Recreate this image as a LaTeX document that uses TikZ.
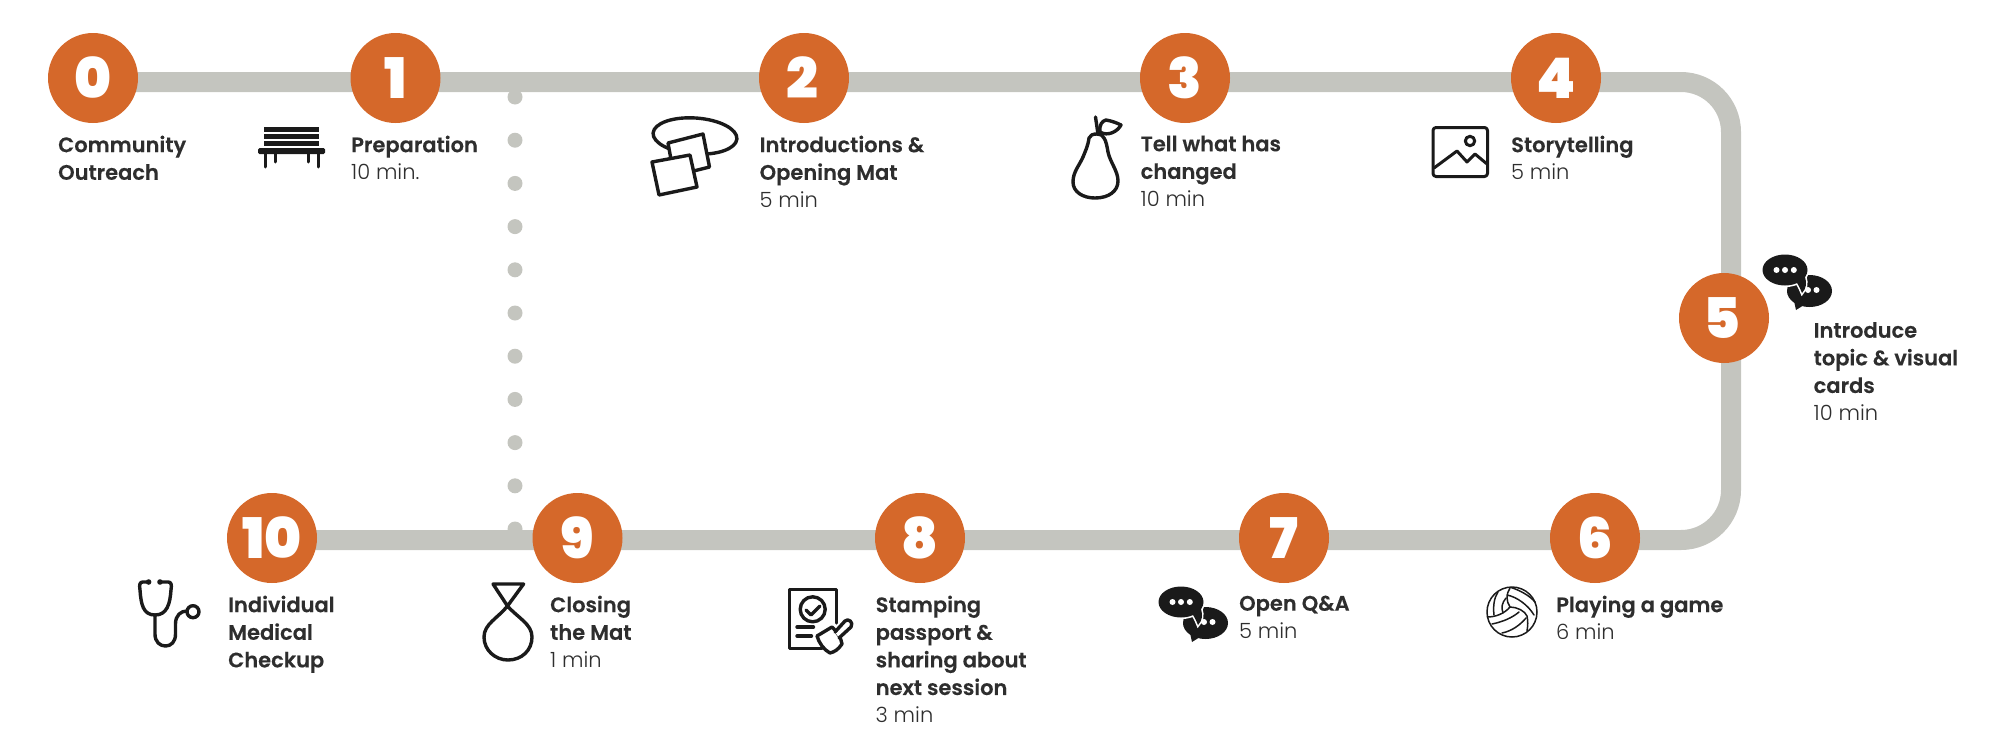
\documentclass[tikz,border=0pt]{standalone}
\usepackage{fontspec}
\setmainfont{Poppins Light}[BoldFont={Poppins SemiBold},BoldFeatures={FakeBold=0.25}]
\newfontfamily\digitfont{Poppins Black}
\pgfdeclarelayer{back}\pgfsetlayers{back,main}
\definecolor{orangeC}{HTML}{D5682A}
\definecolor{trackC}{HTML}{C4C5BF}
\definecolor{inkC}{HTML}{1A1A1A}
\definecolor{textC}{HTML}{2E2E2E}
\tikzset{
  stepnode/.style={circle,fill=orangeC,minimum size=90pt,inner sep=0pt,text=white,font=\digitfont\fontsize{56}{56}\selectfont},
  track/.style={draw=trackC,line width=20pt},
  lbl/.style={anchor=north west,inner sep=0pt,align=left,text=textC,font=\fontsize{21}{27.6}\selectfont,execute at begin node={\rule{0pt}{20pt}}},
  icon/.style={draw=inkC,line width=3.4pt,line join=round,line cap=round},
  thinicon/.style={draw=inkC,line width=1.5pt,line join=round,line cap=round},
  chat/.pic={
    \fill[inkC] (24.5,21) ellipse (22.5 and 16);
    \fill[inkC] (2,22) -- (7,30) -- (9,31) -- (11,40) -- (19,35) -- (18,18) -- cycle;
    \path[draw=white,line width=3.2pt,fill=inkC] (0,0) ellipse (22.5 and 15.5)
      (10,10) .. controls (13,14) and (15,18) .. (17,23) .. controls (21,19) and (22,13) .. (20,7) -- cycle;
    \fill[inkC] (0,0) ellipse (22.5 and 15.5);
    \fill[inkC] (10,10) .. controls (13,14) and (15,18) .. (17,23) .. controls (21,19) and (22,13) .. (20,7) -- cycle;
    \foreach \x in {-8.5,0,8.8}{\fill[white] (\x,0) circle (3);}
    \foreach \x in {23,31.5}{\fill[white] (\x,20) circle (3);}
  }
}
\begin{document}
\begin{tikzpicture}[x=1pt,y=-1pt]
\useasboundingbox (0,0) rectangle (2000,742);
% dotted line
\foreach \i in {0,...,10}{\fill[trackC] (515,{97+43.2*\i}) circle (7.5);}
% circles
\node[stepnode] (c0) at (93,78) {0};
\node[stepnode] (c1) at (395.5,78) {1};
\node[stepnode] (c2) at (804,78) {2\kern4pt};
\node[stepnode] (c3) at (1185,78) {3};
\node[stepnode] (c4) at (1556,78) {4};
\node[stepnode] (c5) at (1724,318) {5\kern4pt};
\node[stepnode] (c6) at (1595,538) {6};
\node[stepnode] (c7) at (1284,538) {7};
\node[stepnode] (c8) at (920,538) {8};
\node[stepnode] (c9) at (577.5,538) {9};
\node[stepnode] (c10) at (272,538) {10};
\coordinate (tr) at (1731,82);
\coordinate (br) at (1731,540);
\begin{pgfonlayer}{back}
\draw[track,rounded corners=50pt] (c0.center |- tr) -- (tr) -- (br) -- (c10.center |- br);
\end{pgfonlayer}
% labels
\node[lbl] (l0) at (58,135.5) {\textbf{Community}\\\textbf{Outreach}};
\node[lbl] (l1) at (351,135.5) {\textbf{Preparation}\\10 min.};
\node[lbl] (l2) at (759.5,135.5) {\textbf{Introductions \&}\\\textbf{Opening Mat}\\5 min};
\node[lbl] (l3) at (1140.5,135.5) {\textbf{Tell what has}\\\textbf{changed}\\10 min};
\node[lbl] (l4) at (1511,135.5) {\textbf{Storytelling}\\5 min};
\node[lbl] (l5) at (1813.5,322) {\textbf{Introduce}\\\textbf{topic \& visual}\\\textbf{cards}\\10 min};
\node[lbl] (l6) at (1556,595.5) {\textbf{Playing a game}\\6 min};
\node[lbl] (l7) at (1239,595.5) {\textbf{Open Q\&A}\\5 min};
\node[lbl] (l8) at (875.5,595.5) {\textbf{Stamping}\\\textbf{passport \&}\\\textbf{sharing about}\\\textbf{next session}\\3 min};
\node[lbl] (l9) at (550,595.5) {\textbf{Closing}\\\textbf{the Mat}\\1 min};
\node[lbl] (l10) at (228,595.5) {\textbf{Individual}\\\textbf{Medical}\\\textbf{Checkup}};
% bench
\foreach \y in {127,134,141}{\fill[inkC] (264,\y) rectangle (319,\y+4.8);}
\fill[inkC,rounded corners=1.5pt] (258,148) rectangle (325,154);
\foreach \x in {265,318}{\draw[icon,line width=3pt] (\x,152) -- (\x,167);}
\foreach \x in {275,308}{\draw[icon,line width=3pt] (\x,152) -- (\x,162);}
% mat
\draw[icon,rotate around={-4:(695,136)}] (695,136) ellipse (42 and 18);
\draw[icon,fill=white] (668,143) -- (703,134) -- (709.5,167) -- (674,176) -- cycle;
\draw[icon,fill=white] (652,162) -- (690,155) -- (697,187) -- (659,195) -- cycle;
% pear
\draw[icon] (1097,134) .. controls (1093,134) and (1090,135) .. (1089,138) .. controls (1088,146) and (1085,152) .. (1083,157) .. controls (1079,166) and (1073,172) .. (1073,182) .. controls (1073,192) and (1083,198) .. (1095,198) .. controls (1109,198) and (1118,191) .. (1118,181) .. controls (1118,171) and (1110,162) .. (1108,152) .. controls (1107,146) and (1106,141) .. (1104,138) .. controls (1103,135) and (1100,134) .. (1097,134) -- cycle;
\draw[icon] (1095.5,117) -- (1098,134);
\draw[icon] (1100,132) .. controls (1099,125) and (1102,121) .. (1106,120) .. controls (1112,121) and (1117,123) .. (1121,125) .. controls (1118,131) and (1108,137) .. (1100,132) -- cycle;
% picture
\draw[icon,line width=3pt,rounded corners=3pt] (1433,127.5) rectangle (1487.5,176.5);
\draw[icon,line width=3pt] (1470,141) circle (4.7);
\draw[icon,line width=3pt] (1434,168) -- (1457,151) -- (1467,162) -- (1475,154) -- (1487,164);
% chat icons
\pic at (1785,270) {chat};
\pic at (1181,602) {chat};
% volleyball
\begin{scope}[shift={(1512,612)}]
\draw[thinicon] (0,0) circle (25);
\draw[thinicon] (-1,-24.5) .. controls (7,-22) and (17,-17) .. (23,-10);
\draw[thinicon] (-5,-17) .. controls (5,-15) and (16,-7) .. (22,3);
\draw[thinicon] (-2,-24) .. controls (-6,-18) and (-6,-11) .. (-2,-5) .. controls (5,-5) and (13,-1) .. (15,4) .. controls (16,9) and (16,13) .. (15,19);
\draw[thinicon] (-14,-20) .. controls (-18,-14) and (-19,-6) .. (-18,3);
\draw[thinicon] (-6,-14) .. controls (-10,-9) and (-11,-5) .. (-9,1);
\draw[thinicon] (-24.5,5) .. controls (-17,5) and (-8,2) .. (-2,-5);
\draw[thinicon] (-20,12) .. controls (-10,10) and (0,6) .. (7,0);
\draw[thinicon] (-10,21) .. controls (0,19) and (8,13) .. (14,6);
\end{scope}
% stamp
\draw[icon] (822,648.7) -- (789.3,648.7) -- (789.3,589.3) -- (836.7,589.3) -- (836.7,623);
\draw[icon] (812.7,609.3) circle (12.5);
\draw[icon] (806,610) -- (811,615) -- (820,606);
\draw[icon] (797,627) -- (813.5,627);
\draw[icon] (797,636) -- (811.5,636);
\draw[icon,fill=white] (817,636) -- (832,627) .. controls (838,633) and (841,638) .. (842,644) .. controls (838,650) and (834,652) .. (830,653) .. controls (824,650) and (819,643) .. (817,636) -- cycle;
\draw[icon,fill=white] (835,632) -- (845,621) .. controls (848,618) and (854,622) .. (851,627) -- (839,638);
% drop
\draw[icon,line cap=butt] (493,584) -- (523.6,584) -- (507.5,606) .. controls (498,618) and (484,624) .. (484,637) .. controls (484,650) and (495,660) .. (508,660) .. controls (522,660) and (532,650) .. (532,637) .. controls (532,624) and (518,618) .. (507.5,606) -- cycle;
% stethoscope
\draw[icon] (148,582) -- (143,582) .. controls (140,582) and (139,584) .. (140,590) .. controls (141,604) and (143,615) .. (155,615) .. controls (167,615) and (170,604) .. (171,590) .. controls (172,584) and (171,582) .. (168,582) -- (161,582);
\fill[inkC] (148.6,582) circle (2.8) (160,582) circle (2.8);
\draw[icon] (155,615) -- (155,634) .. controls (155,642) and (160,646) .. (165.5,646) .. controls (171,646) and (175.5,642) .. (175.5,634) -- (175.5,624) .. controls (175.5,615) and (181,611) .. (187,611);
\draw[icon] (193,611.7) circle (6);
\end{tikzpicture}
\end{document}
